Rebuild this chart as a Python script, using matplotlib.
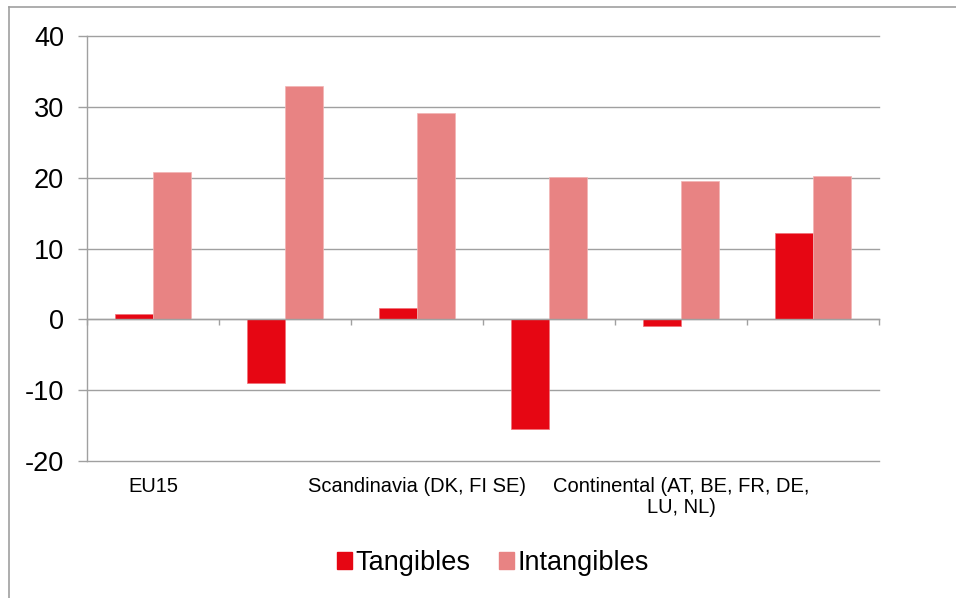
import numpy as np
import matplotlib
matplotlib.use("Agg")
import matplotlib.pyplot as plt
from matplotlib.patches import Patch
from matplotlib.lines import Line2D
import matplotlib.transforms as mtransforms

plt.rcParams['font.family'] = ['Liberation Sans', 'DejaVu Sans']

# data
categories = ["EU15", "", "Scandinavia (DK, FI SE)", "",
              "Continental (AT, BE, FR, DE,\nLU, NL)", ""]
tangibles = [0.7, -9.0, 1.6, -15.5, -0.9, 12.2]
intangibles = [20.8, 33.0, 29.1, 20.1, 19.5, 20.2]
series_names = ["Tangibles", "Intangibles"]
yticks = [-20, -10, 0, 10, 20, 30, 40]

c_tang = "#E60613"
c_intang = "#E88383"
grey = "#A0A0A0"

fig = plt.figure(figsize=(9.56, 5.98), dpi=100)
ax = fig.add_axes([87/956, 1-461/598, (879-87)/956, (461-36)/598])

x = np.arange(len(categories))
w = 0.285
ax.bar(x - w/2, tangibles, w, color=c_tang, edgecolor="#F07078", linewidth=0.5, zorder=3)
ax.bar(x + w/2, intangibles, w, color=c_intang, edgecolor="#F2B4B4", linewidth=0.5, zorder=3)

ax.set_xlim(-0.5, len(categories) - 0.5)
ax.set_ylim(-20, 40)
ax.set_yticks(yticks)
ax.set_yticklabels([str(v) for v in yticks], fontsize=19.5)
ax.yaxis.grid(True, color=grey, linewidth=1.0, zorder=0)
for gl in ax.get_ygridlines():
    gl.set_clip_on(False)
ax.tick_params(axis='y', length=6.5, width=1.0, color=grey, pad=10)

for s in ["top", "right"]:
    ax.spines[s].set_visible(False)
ax.spines["left"].set_color(grey)
ax.spines["left"].set_linewidth(1.0)
ax.spines["bottom"].set_position(("data", 0))
ax.spines["bottom"].set_color(grey)
ax.spines["bottom"].set_linewidth(1.0)
ax.spines["bottom"].set_zorder(4)

# tick marks at group boundaries on the zero line
ax.set_xticks(np.arange(len(categories) + 1) - 0.5)
ax.set_xticklabels([])
ax.tick_params(axis='x', length=4.5, width=1.0, color=grey, direction='out')

# category labels under the plot
trans = mtransforms.blended_transform_factory(ax.transData, ax.transAxes)
for xi, lab in zip(x, categories):
    if lab:
        ax.text(xi, -0.038, lab, transform=trans, ha="center", va="top",
                fontsize=14.5, linespacing=1.1)

handles = [Patch(color=c_tang), Patch(color=c_intang)]
fig.legend(handles, series_names, loc="center", bbox_to_anchor=(493/956, 1-563/598),
           ncol=2, frameon=False, fontsize=19.5, handlelength=0.55, handleheight=0.55,
           handletextpad=0.15, columnspacing=1.05)

# outer chart border (left and top only visible)
fig.add_artist(Line2D([8.5/956, 8.5/956], [0, 1-6.5/598], transform=fig.transFigure,
                      color=grey, linewidth=1.2))
fig.add_artist(Line2D([8.5/956, 1], [1-6.5/598, 1-6.5/598], transform=fig.transFigure,
                      color=grey, linewidth=1.2))

fig.savefig("out.png", dpi=100)
